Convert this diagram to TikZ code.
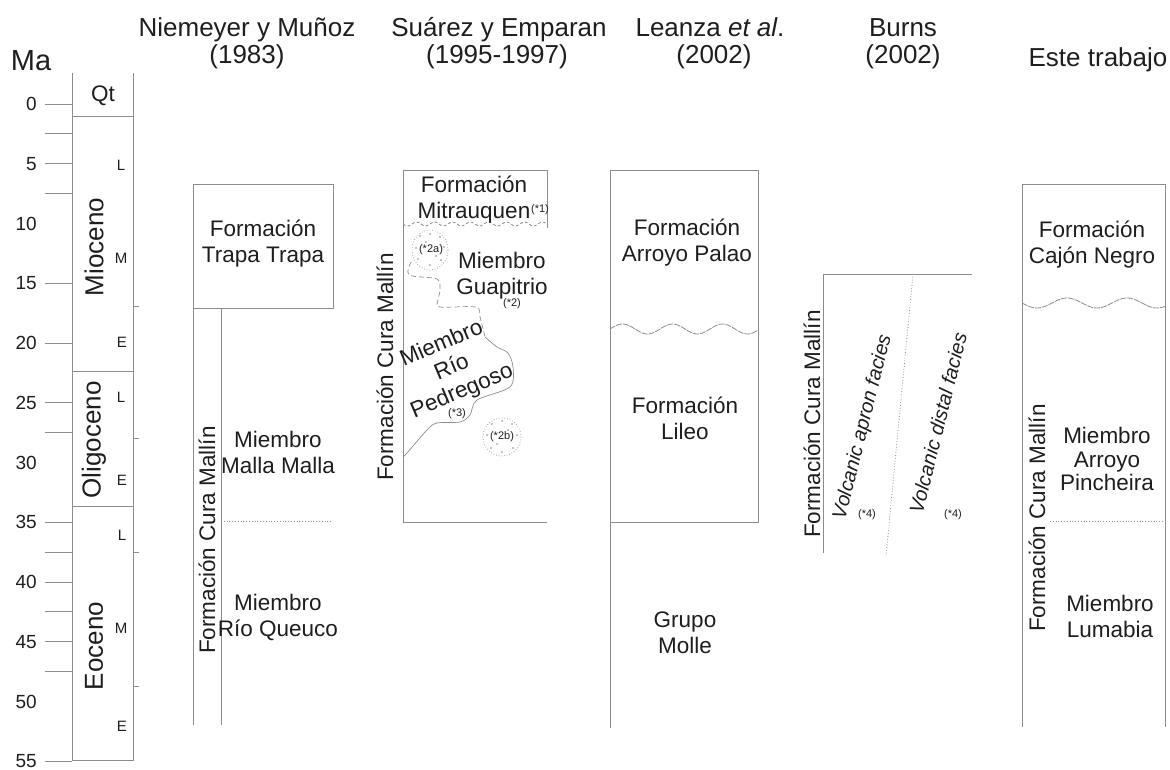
\documentclass[tikz,border=0pt]{standalone}
\usepackage{fontspec}
\setmainfont{Liberation Sans}
\definecolor{lg}{HTML}{8C8C8C}
\definecolor{tx}{HTML}{1E1E1E}
\tikzset{
  ln/.style={draw=lg, line width=0.9pt},
  dotln/.style={draw=lg, line width=0.8pt, dotted},
  hdr/.style={font=\fontsize{26}{28}\selectfont, text=tx, inner sep=0, anchor=base},
  lbl/.style={font=\fontsize{22.5}{26}\selectfont, text=tx, inner sep=0, align=center},
  num/.style={font=\fontsize{19}{20}\selectfont, text=tx, inner sep=0, anchor=east},
  sub/.style={font=\fontsize{15}{16}\selectfont, text=tx, inner sep=0},
  epo/.style={font=\fontsize{26}{28}\selectfont, text=tx, inner sep=0, rotate=90},
  tiny/.style={font=\fontsize{11}{12}\selectfont, text=tx, inner sep=0},
  rot/.style={lbl, rotate=90},
  dotp/.style={fill=lg, draw=none},
}
\begin{document}
\begin{tikzpicture}[x=1pt, y=-1pt]
\useasboundingbox (0,0) rectangle (1170,770);
% ---------- headers
\node[hdr] (hMa) at (31,71) {\fontsize{29}{30}\selectfont Ma};
\node[hdr] (h1a) at (247,37) {Niemeyer y Muñoz};
\node[hdr] (h1b) at (247,64) {(1983)};
\node[hdr] (h2a) at (499,37) {Suárez y Emparan};
\node[hdr] (h2b) at (497,64) {(1995-1997)};
\node[hdr] (h3a) at (710,37) {Leanza \textit{et al}.};
\node[hdr] (h3b) at (714,64) {(2002)};
\node[hdr] (h4a) at (903,37) {Burns};
\node[hdr] (h4b) at (903,64) {(2002)};
\node[hdr] (h5) at (1098,67) {Este trabajo};
% ---------- age scale
\foreach \t/\lab in {0/0,5/5,10/10,15/15,20/20,25/25,30/30,35/35,40/40,45/45,50/50,55/55}{
  \node[num] (n\t) at (37,{104+11.95*\t}) {\lab};
}
\foreach \t in {0,2.5,5,7.5,15,20,25,27.5,35,37.5,40,42.5,45,47.5,55}{
  \draw[ln] (45,{104+11.95*\t}) -- (72,{104+11.95*\t});
}
\draw[ln] (72,73) -- (72,760) -- (133,760) -- (133,73);
\draw[ln] (72,116) -- (133,116);
\draw[ln] (72,371) -- (133,371);
\draw[ln] (72,506) -- (133,506);
\foreach \y in {306,438,552,686}{ \draw[ln] (133,\y) -- (139,\y); }
\node[lbl] (qt) at (103,96) {Qt};
\node[epo] (mio) at (94,247) {Mioceno};
\node[epo] (oli) at (94,440) {Oligoceno};
\node[epo] (eoc) at (94,646) {Eoceno};
\node[sub] (mL) at (121,165) {L};
\node[sub] (mM) at (121,258) {M};
\node[sub] (mE) at (122,342) {E};
\node[sub] (oL) at (121,397) {L};
\node[sub] (oE) at (122,480) {E};
\node[sub] (eL) at (122,535) {L};
\node[sub] (eM) at (121,628) {M};
\node[sub] (eE) at (122,726) {E};
% ---------- Niemeyer y Muñoz
\draw[ln] (193,184) rectangle (333,308);
\draw[ln] (193,308) -- (193,725);
\draw[ln] (221,308) -- (221,725);
\draw[dotln] (221,521) -- (333,521);
\node[lbl] (tt) at (263,244) {Formación\\Trapa Trapa};
\node[rot] (cm1) at (207,540) {Formación Cura Mallín};
\node[lbl] (mm) at (278,452) {Miembro\\Malla Malla};
\node[lbl] (rq) at (278,617) {Miembro\\Río Queuco};
% ---------- Suárez y Emparan
\draw[ln] (547,228) -- (547,170) -- (403,170) -- (403,522) -- (547,522);
\draw[draw=lg, line width=0.8pt, dashed, dash pattern=on 3pt off 2pt]
  plot[domain=403:547, samples=80] (\x,{224+2*sin((\x-403)*20)});
\node[lbl] (mit) at (474,200) {Formación\\Mitrauquen};
\node[tiny] (s1) at (540,210) {(*1)};
\draw[draw=lg, line width=0.7pt, dashed, dash pattern=on 5pt off 3pt]
  plot[smooth] coordinates {(411,262) (409,275) (437,279) (440,290) (438,300) (440,307) (476,307) (480,317) (485,337)};
\draw[draw=lg, line width=0.7pt]
  plot[smooth] coordinates {(485,337) (497,347) (508,353) (513,367) (510,387) (477,400) (470,415) (460,422) (437,423) (427,430) (407,453) (403,457)};
\draw[draw=lg, line width=0.7pt, dotted] (430,250) ellipse [x radius=18, y radius=20];
\foreach \dx/\dy in {-10/-14,0/-16,10/-13,-14/-2,14/-3,-12/9,0/15,11/10,-4/-8,6/6}{
  \fill[dotp] ({430+\dx},{250+\dy}) circle (0.9);
}
\node[tiny] (c2a) at (431,250) {(*2a)};
\node[lbl] (gua) at (502,276) {Miembro\\Guapitrio};
\node[tiny] (s2) at (512,304) {(*2)};
\node[lbl, rotate=23] (rp) at (452,368) {Miembro\\Río\\Pedregoso};
\node[tiny] (s3) at (457,414) {(*3)};
\draw[draw=lg, line width=0.7pt, dotted] (502,437) ellipse [x radius=19, y radius=19];
\foreach \dx/\dy in {-10/-13,0/-16,10/-13,-15/-2,15/-2,-11/11,0/15,11/11,-5/7,6/-7}{
  \fill[dotp] ({502+\dx},{437+\dy}) circle (0.9);
}
\node[tiny] (c2b) at (502,437) {(*2b)};
\node[rot] (cm2) at (385,367) {Formación Cura Mallín};
% ---------- Leanza et al.
\draw[ln] (610,170) rectangle (758,522);
\draw[ln] (610,522) -- (610,728);
\draw[draw=lg, line width=0.8pt, dashed, dash pattern=on 6pt off 1pt]
  plot[domain=610:758, samples=80] (\x,{329-5*sin((\x-610)*7.2)});
\node[lbl] (ap) at (687,243) {Formación\\Arroyo Palao};
\node[lbl] (li) at (685,418) {Formación\\Lileo};
\node[lbl] (gm) at (685,633) {Grupo\\Molle};
% ---------- Burns
\draw[ln] (823,553) -- (823,274) -- (972,274);
\draw[dotln] (913,274) -- (886,556);
\node[rot] (cm3) at (812,424) {Formación Cura Mallín};
\node[font=\fontsize{20}{22}\selectfont\itshape, text=tx, inner sep=0, rotate=76] (va) at (863,427) {Volcanic apron facies};
\node[font=\fontsize{20}{22}\selectfont\itshape, text=tx, inner sep=0, rotate=76] (vd) at (938,423) {Volcanic distal facies};
\node[tiny] (s4a) at (867,515) {(*4)};
\node[tiny] (s4b) at (953,515) {(*4)};
% ---------- Este trabajo
\draw[ln] (1022,727) -- (1022,184) -- (1165,184) -- (1165,727);
\draw[draw=lg, line width=0.8pt, dashed, dash pattern=on 6pt off 1pt]
  plot[domain=1022:1165, samples=80] (\x,{303+5*sin((\x-1022)*6)});
\draw[dotln] (1050,521) -- (1165,521);
\node[lbl] (cn) at (1092,245) {Formación\\Cajón Negro};
\node[rot] (cm4) at (1037,518) {Formación Cura Mallín};
\node[lbl, font=\fontsize{22.5}{23.5}\selectfont] (ap2) at (1107,459) {Miembro\\Arroyo\\Pincheira};
\node[lbl] (lu) at (1110,616) {Miembro\\Lumabia};
\end{tikzpicture}
\end{document}
